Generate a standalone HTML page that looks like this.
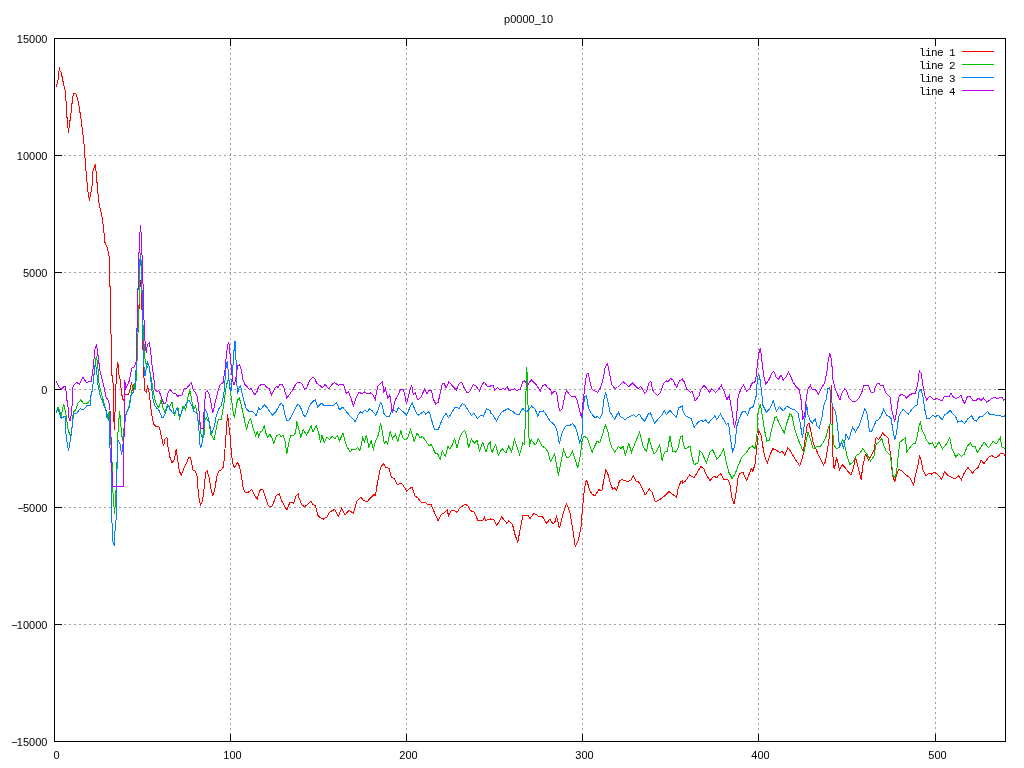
<!DOCTYPE html>
<html><head><meta charset="utf-8"><title>p0000_10</title>
<style>
html,body{margin:0;padding:0;background:#fff;}
body{width:1024px;height:768px;overflow:hidden;font-family:"Liberation Sans",sans-serif;}
svg{display:block}
.t{font-family:"Liberation Sans",sans-serif;font-size:11px;fill:#000}
.k{font-family:"Liberation Mono",monospace;font-size:11px;fill:#000;letter-spacing:-0.6px}
.g{stroke:#a0a0a0;stroke-width:1;stroke-dasharray:2 3;fill:none}
.b{stroke:#000;stroke-width:1;fill:none}
.p{fill:none;stroke-width:1;stroke-linejoin:miter}
</style></head><body>
<svg width="1024" height="768" viewBox="0 0 1024 768">
<rect width="1024" height="768" fill="#fff"/>
<g shape-rendering="crispEdges">
<line class="g" x1="54" y1="155.5" x2="1005" y2="155.5"/>
<line class="g" x1="54" y1="272.5" x2="1005" y2="272.5"/>
<line class="g" x1="54" y1="389.5" x2="1005" y2="389.5"/>
<line class="g" x1="54" y1="507.5" x2="1005" y2="507.5"/>
<line class="g" x1="54" y1="624.5" x2="1005" y2="624.5"/>
<line class="g" x1="230.5" y1="38" x2="230.5" y2="741"/>
<line class="g" x1="406.5" y1="38" x2="406.5" y2="741"/>
<line class="g" x1="582.5" y1="38" x2="582.5" y2="741"/>
<line class="g" x1="758.5" y1="38" x2="758.5" y2="741"/>
<line class="g" x1="935.5" y1="38" x2="935.5" y2="741" stroke-dashoffset="1"/>
<rect x="917" y="46" width="82" height="50" fill="#fff"/>
<rect class="b" x="54.5" y="38.5" width="951" height="703"/>
<line class="b" x1="54" y1="38.5" x2="62" y2="38.5"/>
<line class="b" x1="998" y1="38.5" x2="1006" y2="38.5"/>
<line class="b" x1="54" y1="155.5" x2="62" y2="155.5"/>
<line class="b" x1="998" y1="155.5" x2="1006" y2="155.5"/>
<line class="b" x1="54" y1="272.5" x2="62" y2="272.5"/>
<line class="b" x1="998" y1="272.5" x2="1006" y2="272.5"/>
<line class="b" x1="54" y1="389.5" x2="62" y2="389.5"/>
<line class="b" x1="998" y1="389.5" x2="1006" y2="389.5"/>
<line class="b" x1="54" y1="507.5" x2="62" y2="507.5"/>
<line class="b" x1="998" y1="507.5" x2="1006" y2="507.5"/>
<line class="b" x1="54" y1="624.5" x2="62" y2="624.5"/>
<line class="b" x1="998" y1="624.5" x2="1006" y2="624.5"/>
<line class="b" x1="54" y1="741.5" x2="62" y2="741.5"/>
<line class="b" x1="998" y1="741.5" x2="1006" y2="741.5"/>
<line class="b" x1="54.5" y1="742" x2="54.5" y2="734"/>
<line class="b" x1="54.5" y1="38" x2="54.5" y2="46"/>
<line class="b" x1="230.5" y1="742" x2="230.5" y2="734"/>
<line class="b" x1="230.5" y1="38" x2="230.5" y2="46"/>
<line class="b" x1="406.5" y1="742" x2="406.5" y2="734"/>
<line class="b" x1="406.5" y1="38" x2="406.5" y2="46"/>
<line class="b" x1="582.5" y1="742" x2="582.5" y2="734"/>
<line class="b" x1="582.5" y1="38" x2="582.5" y2="46"/>
<line class="b" x1="758.5" y1="742" x2="758.5" y2="734"/>
<line class="b" x1="758.5" y1="38" x2="758.5" y2="46"/>
<line class="b" x1="935.5" y1="742" x2="935.5" y2="734"/>
<line class="b" x1="935.5" y1="38" x2="935.5" y2="46"/>
</g>
<g style="filter:grayscale(1)">
<text class="t" x="47.4" y="43.0" text-anchor="end">15000</text>
<text class="t" x="47.4" y="160.0" text-anchor="end">10000</text>
<text class="t" x="47.4" y="277.0" text-anchor="end">5000</text>
<text class="t" x="47.4" y="394.0" text-anchor="end">0</text>
<text class="t" x="47.4" y="512.0" text-anchor="end">−<tspan dx="-1">5000</tspan></text>
<text class="t" x="47.4" y="629.0" text-anchor="end">−<tspan dx="-1">10000</tspan></text>
<text class="t" x="47.4" y="746.0" text-anchor="end">−<tspan dx="-1">15000</tspan></text>
<text class="t" x="56.5" y="759" text-anchor="middle">0</text>
<text class="t" x="232.5" y="759" text-anchor="middle">100</text>
<text class="t" x="408.5" y="759" text-anchor="middle">200</text>
<text class="t" x="584.5" y="759" text-anchor="middle">300</text>
<text class="t" x="760.5" y="759" text-anchor="middle">400</text>
<text class="t" x="937.5" y="759" text-anchor="middle">500</text>
<text class="t" x="528.6" y="23" text-anchor="middle">p0000_10</text>
<text class="k" x="918.9" y="56.0">line 1</text>
<text class="k" x="918.9" y="69.0">line 2</text>
<text class="k" x="918.9" y="82.0">line 3</text>
<text class="k" x="918.9" y="95.0">line 4</text>
</g>
<line x1="962" y1="51.5" x2="994" y2="51.5" stroke="#ff0000" stroke-width="1" shape-rendering="crispEdges"/>
<line x1="962" y1="64.5" x2="994" y2="64.5" stroke="#00c000" stroke-width="1" shape-rendering="crispEdges"/>
<line x1="962" y1="77.5" x2="994" y2="77.5" stroke="#0080ff" stroke-width="1" shape-rendering="crispEdges"/>
<line x1="962" y1="90.5" x2="994" y2="90.5" stroke="#c000ff" stroke-width="1" shape-rendering="crispEdges"/>
<g shape-rendering="crispEdges">
<polyline class="p" stroke="#ff0000" points="56.2,86.5 57.8,81.9 59.4,67.1 60.0,71.2 61.2,72.5 63.1,81.9 65.2,90.6 66.0,101.2 66.9,116.2 68.4,132.5 70.6,116.2 71.9,105.0 72.5,97.5 73.8,93.1 75.6,93.1 76.9,96.2 78.8,105.0 80.6,116.2 82.8,132.5 84.8,151.0 84.8,155.5 86.5,177.5 88.1,192.5 89.4,200.6 91.9,187.5 93.1,170.0 95.4,164.4 96.9,181.2 98.8,202.5 102.2,217.5 104.4,236.0 105.0,242.5 107.5,248.1 109.4,258.1 109.8,286.2 110.6,287.5 110.6,321.0 110.6,333.8 111.5,334.4 111.9,375.6 112.9,376.2 113.5,411.0 114.4,430.0 115.0,412.5 116.2,378.8 117.5,362.2 118.5,365.0 119.0,375.0 120.2,380.0 121.2,390.0 122.5,398.8 123.8,400.6 125.0,394.4 128.1,395.0 130.0,390.0 131.5,382.5 133.1,391.2 134.0,384.4 135.6,388.8 136.9,365.0 137.5,345.0 138.8,315.0 139.6,292.0 140.6,280.0 141.6,292.0 142.5,330.0 143.0,350.0 143.5,372.0 144.4,382.5 145.0,391.2 146.2,392.5 147.5,386.2 148.8,390.0 150.0,400.0 150.6,400.0 151.0,408.8 152.5,418.8 153.8,424.4 156.2,426.9 158.8,426.2 160.0,430.0 161.9,438.8 163.5,446.2 165.0,438.8 166.9,437.5 168.1,447.5 170.0,457.5 171.9,462.5 173.8,461.2 174.4,458.8 176.2,449.4 177.5,458.8 179.4,471.2 181.2,475.0 183.8,468.8 186.2,463.8 188.8,457.5 190.6,457.5 193.1,470.0 195.0,470.6 196.9,475.0 198.1,490.0 199.4,501.2 200.6,505.0 202.5,501.2 203.8,491.2 205.6,472.5 207.2,470.6 209.4,478.8 211.2,490.0 212.8,495.6 214.4,491.2 216.9,476.2 218.8,471.2 221.2,470.0 223.5,466.9 225.0,448.8 226.0,435.0 226.9,422.5 227.5,414.4 228.2,420.0 228.8,425.0 230.0,435.0 231.2,450.0 232.5,462.5 234.4,467.5 237.5,462.5 239.4,466.2 241.2,475.0 243.1,487.5 245.0,491.9 246.9,493.1 251.9,489.4 255.0,496.2 257.2,499.4 259.4,491.2 261.2,489.4 263.1,490.0 265.6,497.5 268.1,505.0 270.0,506.9 272.5,505.6 276.2,495.6 279.4,493.8 281.9,501.2 285.0,506.9 286.9,510.0 290.0,501.9 293.8,503.1 296.2,495.6 298.0,494.4 298.0,495.3 299.9,500.0 302.1,505.2 304.6,506.6 307.4,504.7 310.8,501.3 313.0,504.7 315.2,505.2 317.7,515.0 320.5,517.8 323.3,519.1 327.1,516.9 329.5,512.2 331.8,510.9 334.6,509.4 338.3,516.5 341.5,508.4 344.9,515.0 349.0,510.3 353.3,513.1 357.1,500.9 360.8,497.2 363.6,500.4 367.0,502.2 370.2,498.1 373.9,494.4 375.4,495.7 377.7,481.2 380.5,468.1 383.3,463.4 386.1,467.8 388.9,468.1 391.4,477.5 394.6,478.8 397.4,485.0 400.8,483.1 403.0,485.0 406.8,491.2 409.6,488.4 412.0,487.2 415.2,496.2 418.0,498.1 421.4,502.8 424.0,501.9 427.4,504.1 431.1,504.7 433.9,511.2 438.2,521.0 441.4,514.1 444.2,513.1 447.1,509.8 448.6,515.9 450.8,511.2 453.6,510.3 457.0,512.2 460.2,507.5 464.9,504.3 467.7,505.6 470.5,510.9 473.3,511.2 475.2,514.1 478.0,521.0 482.7,520.6 484.6,517.2 485.5,520.6 490.0,519.1 490.0,519.3 493.8,519.7 496.6,525.3 499.4,521.6 501.6,516.5 504.6,520.6 506.9,523.4 508.8,520.6 512.5,524.4 515.3,535.6 517.8,542.2 520.0,530.0 522.8,515.9 525.6,515.6 528.4,515.4 529.8,518.8 533.5,513.7 536.9,514.6 539.1,516.9 542.5,516.5 546.2,523.4 550.0,519.1 552.8,523.8 554.7,522.5 556.6,516.5 559.4,528.1 562.2,516.9 566.5,503.8 569.7,511.2 572.5,528.1 575.3,546.5 578.1,541.2 580.9,528.1 582.2,511.2 583.8,494.4 585.6,482.2 586.9,480.3 589.4,489.7 592.2,494.4 595.0,495.7 598.8,489.7 601.9,491.0 603.4,482.2 605.9,469.6 608.1,474.7 610.9,485.0 612.8,489.1 614.3,487.8 616.6,490.2 619.4,481.2 621.6,479.4 626.9,481.2 630.6,480.9 633.4,475.6 636.2,481.2 639.1,482.2 641.9,487.8 645.2,494.8 649.4,489.1 652.2,492.5 655.4,501.9 659.7,499.6 664.4,496.2 669.1,491.6 672.8,494.4 676.6,497.2 678.4,486.9 681.2,481.2 682.0,480.9 682.0,484.0 685.8,480.6 689.5,475.0 694.2,477.8 697.9,471.2 700.8,466.6 703.6,468.4 706.4,475.0 710.1,480.6 713.9,475.9 716.7,477.8 720.4,473.5 724.2,479.7 727.9,479.7 729.8,483.8 731.7,496.9 734.1,504.4 736.4,491.2 737.9,478.1 739.2,474.1 742.9,472.2 746.7,480.6 751.4,468.4 752.9,471.2 755.1,463.8 757.0,445.0 758.5,430.9 760.8,433.8 762.6,445.0 764.5,456.2 767.3,462.8 770.1,454.4 772.9,448.8 775.8,449.7 779.5,452.5 782.3,451.6 784.8,455.3 787.9,447.8 790.8,451.6 794.5,458.1 799.8,466.0 802.9,456.2 804.8,441.2 807.2,424.4 809.1,423.4 811.0,431.9 813.2,443.1 817.0,451.6 820.8,460.0 823.6,464.7 825.4,461.9 827.3,450.6 829.2,437.5 830.5,415.0 831.4,385.0 832.4,415.0 832.9,456.2 834.2,469.4 836.7,457.2 839.5,470.3 842.3,464.7 845.1,467.5 847.9,471.2 850.8,475.0 853.6,467.5 855.4,457.2 858.2,467.5 861.1,479.7 862.9,465.6 865.4,454.4 868.6,460.0 871.4,455.3 874.0,450.6 876.1,437.5 878.9,439.4 882.6,433.2 885.4,435.6 887.9,437.5 889.2,445.0 891.1,458.1 892.4,475.0 894.8,481.6 896.7,475.0 898.6,469.4 902.3,471.2 906.1,475.0 909.8,477.8 913.6,485.3 915.4,475.0 917.9,465.6 919.6,455.3 921.1,460.0 922.9,469.4 925.8,475.9 928.6,473.5 931.4,474.1 934.8,472.2 937.9,475.0 941.7,479.1 944.5,472.2 947.3,475.0 951.1,476.9 954.8,478.8 958.6,475.9 961.4,479.7 964.2,473.1 967.9,467.5 972.6,473.1 975.4,469.4 978.2,467.5 981.1,460.0 983.9,463.8 986.7,460.0 989.5,456.2 992.3,455.9 995.1,457.8 997.9,456.6 1000.8,453.4 1003.6,453.4 1004.9,455.3"/>
<polyline class="p" stroke="#00c000" points="56.2,413.1 58.1,406.9 61.2,415.6 63.8,403.8 65.6,412.5 68.1,430.0 70.6,436.9 72.5,423.8 73.8,411.9 75.6,410.0 78.1,403.1 80.6,400.0 83.8,403.8 86.9,403.8 90.0,400.0 91.9,392.5 93.8,377.5 95.2,362.5 96.5,356.2 97.8,365.0 98.8,382.5 101.2,392.5 103.8,402.5 105.6,408.8 107.5,418.8 109.4,410.6 110.2,425.0 111.2,450.0 112.5,468.8 112.5,487.5 112.6,492.5 113.5,493.8 113.5,506.2 114.5,507.5 114.5,514.4 115.5,499.4 116.4,482.5 116.9,470.0 117.5,463.8 117.5,437.5 118.8,422.5 119.4,411.2 120.6,418.8 121.2,430.0 122.5,440.6 123.8,430.0 125.0,420.0 126.2,412.5 128.8,407.5 130.0,400.0 130.0,401.2 131.9,390.0 134.4,384.4 135.6,388.8 136.9,365.0 137.5,345.0 138.8,315.0 139.5,280.0 140.5,253.0 141.5,270.0 142.5,315.0 143.8,341.2 145.0,358.8 146.9,367.5 148.8,365.0 150.6,375.0 151.9,382.5 153.1,390.0 155.0,400.0 156.9,405.0 158.8,407.5 161.2,400.0 163.1,408.1 165.0,412.5 167.5,405.0 169.4,406.9 171.9,401.9 174.4,416.2 176.2,408.8 178.0,407.5 179.4,419.4 183.1,406.2 185.6,410.0 188.1,396.2 190.0,390.6 191.9,401.2 193.8,408.8 195.6,406.2 196.9,412.5 198.1,420.6 199.4,420.0 201.0,433.8 202.8,438.8 204.4,433.8 205.0,420.0 206.2,417.5 207.5,420.0 208.8,420.0 210.6,433.8 214.0,440.0 215.6,432.5 217.5,422.5 218.8,419.4 221.2,419.4 223.8,405.0 225.6,390.0 227.5,381.2 228.8,379.4 230.0,388.8 231.2,397.5 233.1,411.2 234.4,417.5 235.6,410.0 237.5,400.0 239.4,398.1 241.2,405.0 243.8,416.2 244.4,420.0 246.5,429.4 248.8,421.2 250.6,418.8 252.5,426.2 255.6,435.6 257.2,431.9 258.8,436.9 260.2,431.9 262.5,430.6 264.4,425.0 265.6,432.5 267.5,436.9 270.0,434.4 271.9,438.1 273.8,443.8 276.2,436.2 279.4,434.4 281.2,436.9 283.1,435.0 285.0,441.2 286.9,453.8 288.8,442.5 290.6,435.6 293.8,435.6 295.6,432.5 296.9,421.2 298.0,425.6 300.8,437.8 303.2,429.4 306.4,435.0 308.3,432.2 311.1,425.6 313.0,432.2 316.2,426.0 318.6,432.2 320.5,442.5 322.0,435.0 324.2,442.5 327.1,436.9 329.5,439.7 332.1,435.9 334.6,438.8 337.4,435.6 339.6,441.0 343.0,432.8 344.9,440.6 347.1,447.2 350.1,451.9 352.4,449.1 355.2,449.6 357.6,447.2 359.9,450.9 362.7,437.8 364.6,441.6 366.4,435.0 368.9,447.2 371.1,440.6 373.4,449.1 375.8,440.6 378.6,434.1 380.5,422.8 382.4,432.2 384.2,443.4 386.1,441.6 387.6,444.4 390.2,431.2 392.7,438.8 395.5,434.1 397.8,441.6 400.8,430.9 403.0,437.8 404.9,439.7 407.7,437.8 410.5,429.8 412.4,435.0 414.2,441.6 417.1,432.8 419.9,437.8 422.7,436.5 425.5,440.6 429.2,445.9 431.5,444.4 434.9,452.8 437.7,453.8 440.1,459.4 442.4,450.9 445.2,456.6 448.0,446.2 449.9,449.1 452.1,445.3 454.6,438.8 457.0,447.8 459.6,437.8 462.1,432.8 464.9,430.3 466.8,436.9 468.6,448.1 471.4,438.8 474.2,443.4 477.1,440.6 479.5,450.9 482.7,442.5 486.1,451.9 488.3,444.4 490.0,442.5 490.0,445.6 492.2,452.2 495.6,444.7 498.4,455.0 502.2,448.4 505.9,453.1 508.8,445.6 511.6,452.2 514.4,439.6 517.2,447.5 519.6,455.0 522.8,442.8 524.3,443.8 525.2,425.0 526.6,367.2 527.5,378.1 528.4,425.0 529.4,446.6 531.2,439.6 534.1,443.8 535.9,444.7 538.4,438.5 541.6,445.6 545.3,448.4 547.8,451.2 550.4,461.6 554.7,454.1 558.4,475.6 560.9,462.5 563.5,449.4 566.9,457.8 569.7,456.9 572.5,451.2 575.3,459.7 577.8,468.1 580.4,455.0 582.2,440.0 584.1,436.2 587.5,438.1 589.4,443.8 592.2,452.2 595.0,445.6 597.2,440.9 599.7,442.8 602.5,434.4 605.3,425.0 607.8,430.6 610.0,441.9 611.9,447.5 614.7,452.2 618.4,446.6 621.2,448.4 623.1,446.0 625.4,455.0 628.8,443.8 631.6,452.2 634.4,444.7 637.2,438.1 639.6,432.5 641.5,440.0 643.4,447.5 646.6,451.2 649.0,438.1 651.6,447.5 654.1,454.1 656.5,451.2 659.7,444.7 662.1,460.6 664.4,452.2 667.2,451.2 670.0,436.2 672.8,451.2 675.6,452.2 678.4,447.5 680.3,437.2 682.0,436.2 682.0,437.5 684.8,448.8 687.6,447.8 689.9,445.9 691.8,456.2 694.2,464.7 697.9,462.8 699.8,450.6 701.7,452.5 706.4,462.8 710.1,451.6 712.9,449.7 716.7,459.1 720.4,455.3 723.6,448.8 726.1,461.9 728.9,472.2 732.2,478.8 735.4,473.1 738.2,465.6 742.0,457.2 745.8,453.4 749.5,447.8 752.3,445.9 755.1,448.8 757.0,433.8 757.9,413.1 760.4,403.8 762.2,415.0 764.5,430.0 766.8,441.2 769.2,440.3 772.0,428.1 774.8,417.8 776.7,416.9 779.1,423.4 784.2,432.8 787.0,422.5 789.8,414.1 791.7,415.0 794.5,428.1 798.2,439.4 802.0,448.8 803.9,452.5 806.1,441.2 808.0,431.9 810.4,439.4 813.2,448.8 816.1,446.9 819.8,446.9 823.6,442.2 826.4,435.6 828.2,428.1 830.1,423.4 832.0,424.4 833.9,445.0 836.7,448.8 839.5,446.9 842.9,439.4 845.1,446.9 847.0,456.2 849.8,464.7 853.0,461.9 856.4,455.3 859.2,454.0 862.9,448.8 866.7,454.0 870.4,460.9 874.0,456.2 876.1,444.1 878.9,442.2 881.7,438.4 883.6,445.0 886.4,451.6 890.1,455.3 891.6,463.8 892.9,475.0 894.8,477.8 896.7,471.2 898.6,452.5 899.9,442.2 902.3,440.3 905.5,437.5 906.6,452.1 909.8,447.8 912.6,444.1 915.4,443.1 917.3,435.6 919.2,425.3 920.5,422.5 922.0,430.0 923.9,433.8 926.7,440.3 929.5,444.1 932.3,443.1 935.1,447.8 938.9,442.2 942.6,448.8 946.4,444.1 949.8,437.5 952.0,448.8 955.8,457.2 958.6,453.4 961.4,456.2 964.2,454.4 967.0,446.9 970.4,442.8 972.6,446.9 975.4,446.9 977.3,452.5 981.1,446.9 984.2,442.2 988.6,447.8 993.2,441.2 996.1,444.1 1000.4,437.5 1001.7,446.9 1004.9,448.4"/>
<polyline class="p" stroke="#0080ff" points="56.2,411.9 58.1,409.4 61.2,418.1 65.0,416.2 66.2,437.5 68.5,451.2 70.6,438.8 72.5,425.0 73.1,413.1 76.9,413.1 80.0,408.8 83.8,409.4 87.5,405.0 90.0,405.0 90.0,400.0 92.5,388.8 94.4,370.0 95.6,363.8 96.9,373.8 98.1,386.2 100.0,395.0 103.8,405.0 106.2,411.0 106.2,417.5 107.5,415.0 109.4,422.5 109.8,447.5 110.6,448.8 111.2,468.8 111.5,487.5 111.5,488.8 111.5,522.5 112.4,523.8 112.6,541.2 114.5,545.6 114.8,531.2 115.8,530.0 116.4,502.5 116.8,470.0 116.9,465.0 118.1,440.0 120.0,443.8 121.5,455.0 122.5,450.0 123.8,436.2 125.0,422.5 126.2,413.8 128.8,408.8 130.6,400.0 130.6,396.2 133.1,392.5 135.0,387.5 136.2,367.5 136.9,337.5 137.5,310.0 138.3,275.0 140.3,256.0 141.5,262.0 142.5,315.0 143.1,343.8 143.8,365.0 145.0,376.2 146.2,368.8 147.8,361.9 149.4,367.5 150.6,377.5 151.9,390.0 153.1,400.0 155.0,406.2 157.5,408.8 158.8,410.0 161.9,417.5 163.8,416.9 166.9,408.8 168.1,405.0 170.0,409.4 173.8,413.8 175.0,411.9 176.9,408.1 180.0,416.2 182.5,410.0 185.0,406.2 188.8,400.0 190.6,402.5 193.8,411.2 196.9,413.1 198.8,426.0 199.4,441.2 200.6,448.1 202.5,441.2 203.8,426.2 205.0,409.4 206.9,412.5 208.8,420.0 210.0,426.0 210.0,427.5 211.9,433.8 213.8,427.5 214.4,426.0 216.2,416.2 218.8,408.8 221.2,405.6 223.8,395.0 225.0,380.0 226.2,366.2 227.2,360.6 228.1,370.0 229.4,383.8 231.0,391.2 232.5,373.8 233.8,352.5 235.0,341.2 235.9,355.0 236.5,377.5 237.5,393.8 238.8,388.1 240.6,385.6 241.9,392.5 243.8,400.0 246.2,408.8 249.4,411.9 252.5,411.2 256.2,415.6 258.8,408.1 260.0,410.0 264.4,405.0 267.5,408.1 270.0,411.9 272.5,415.0 276.2,411.2 279.4,405.0 281.6,403.1 283.1,405.6 285.0,415.0 286.9,420.6 288.1,421.2 290.6,417.5 295.0,408.8 298.0,403.8 300.8,407.8 302.7,413.4 305.1,417.2 307.4,412.5 309.2,405.9 312.1,402.2 315.2,399.8 317.7,406.9 319.6,405.0 322.0,402.8 323.9,405.9 332.7,405.9 336.4,402.8 339.6,409.7 342.6,407.2 344.9,409.7 348.6,414.4 352.4,418.1 355.2,421.9 358.0,415.3 360.8,411.6 362.1,413.4 364.6,410.2 367.4,411.6 369.6,408.8 372.1,410.6 375.8,415.3 378.2,409.7 380.5,402.8 382.4,405.9 384.2,414.4 386.1,416.2 389.5,416.2 391.8,409.7 394.6,410.2 396.4,412.5 398.3,407.8 400.8,409.7 403.9,412.5 406.4,414.9 408.6,410.6 410.5,405.9 412.4,403.1 415.2,410.6 418.0,415.3 420.8,413.4 423.6,411.6 425.9,414.4 428.3,411.6 430.2,414.4 432.1,421.9 434.5,429.8 438.2,429.4 440.5,423.8 443.3,417.2 446.1,413.4 448.4,417.8 450.8,414.4 454.6,407.8 457.0,406.9 459.2,408.8 462.1,403.7 464.9,405.0 467.7,409.7 471.4,415.3 473.9,413.4 477.6,418.5 480.8,415.3 483.6,416.2 486.4,408.8 490.0,410.6 490.0,412.8 492.8,414.7 496.6,421.2 499.4,415.6 502.2,411.5 505.0,410.4 507.8,408.5 510.6,410.4 513.4,411.9 516.2,414.3 519.1,414.3 522.8,408.1 524.7,410.9 526.6,411.9 529.4,409.1 531.6,406.2 535.0,409.1 537.8,416.0 539.7,411.9 543.4,410.9 546.2,414.7 550.0,421.2 553.8,424.1 556.6,428.8 559.4,443.8 562.2,432.5 565.0,426.9 567.8,425.0 569.7,425.6 572.5,423.5 575.3,426.9 577.2,432.5 579.6,442.8 581.9,437.2 582.8,411.9 584.7,396.9 586.6,395.9 588.4,408.1 590.3,411.9 593.1,415.6 595.0,417.5 597.8,416.6 599.7,418.4 602.1,413.8 604.0,398.8 605.7,393.1 608.1,402.5 610.0,411.9 612.8,416.6 614.7,419.0 618.4,411.9 620.3,416.6 625.0,419.4 629.7,416.6 633.4,414.7 636.2,416.6 639.1,413.8 641.9,418.4 644.7,421.2 648.4,413.8 650.3,412.8 652.2,417.5 654.6,423.1 658.8,418.4 661.6,415.6 664.4,410.9 666.2,414.7 670.0,410.4 672.8,413.8 676.6,417.5 678.4,408.1 682.0,406.2 682.0,408.4 684.8,415.0 687.6,416.9 691.4,418.8 694.2,427.2 697.9,422.5 700.8,420.2 703.6,421.6 705.4,419.7 708.2,423.4 712.0,418.8 714.8,415.9 716.7,419.7 720.4,414.1 723.2,418.8 726.1,424.4 728.5,423.4 730.4,437.5 732.6,452.5 734.9,445.0 736.8,426.2 739.2,418.8 742.0,412.2 744.8,411.2 747.6,415.0 749.9,408.4 753.2,406.6 756.1,396.2 757.4,379.4 758.5,372.8 760.4,381.2 761.7,393.4 763.0,405.6 766.4,412.2 769.2,409.4 771.1,405.6 773.3,400.9 776.3,411.2 779.5,406.6 783.2,410.9 787.0,406.0 790.8,408.4 794.5,409.8 797.9,412.8 800.1,422.5 802.4,437.5 803.9,428.1 805.4,415.0 806.7,403.8 808.0,415.0 810.4,420.6 812.3,423.4 815.1,418.8 817.0,426.2 819.2,428.1 821.7,418.8 823.6,405.6 826.0,400.0 827.9,388.4 829.8,387.8 831.1,400.0 832.9,406.6 835.8,413.1 837.6,426.2 839.5,446.9 841.8,442.2 843.6,448.8 846.1,433.8 848.9,439.4 852.6,427.2 855.4,431.9 859.2,425.3 862.0,416.9 864.8,408.4 867.2,414.1 869.5,431.9 871.4,431.9 874.0,426.2 876.1,420.6 878.5,419.7 881.1,415.9 883.6,409.4 886.4,415.0 889.2,416.9 891.1,418.8 892.9,430.0 894.8,440.3 896.7,431.9 898.6,416.9 901.0,412.2 903.2,409.4 906.1,412.2 908.5,414.1 911.7,409.4 914.5,406.6 917.3,404.7 919.2,390.6 921.1,389.7 922.9,396.2 924.8,409.4 926.7,418.8 929.5,418.8 933.2,415.0 935.1,416.9 937.9,415.0 942.2,419.7 944.5,415.0 947.3,413.1 950.1,410.3 952.9,414.1 955.8,416.9 957.6,422.1 961.4,421.0 964.8,423.4 967.9,418.8 971.7,415.9 973.6,419.7 976.4,421.0 980.1,415.9 982.4,416.9 984.8,414.1 987.6,411.2 989.5,414.1 993.2,414.1 996.1,415.9 999.8,415.0 1001.7,416.9 1004.9,415.9"/>
<polyline class="p" stroke="#c000ff" points="56.2,381.0 59.4,387.5 61.2,389.4 63.8,386.5 65.6,386.5 66.9,400.0 67.8,403.8 68.8,417.5 70.0,420.6 71.2,415.0 72.2,403.8 73.1,385.6 76.9,382.5 79.4,384.4 82.8,377.1 86.2,382.5 91.2,381.2 93.1,368.8 95.0,348.8 96.5,344.4 98.1,356.2 100.0,371.2 103.8,386.2 106.2,397.5 108.8,401.2 110.0,410.0 110.6,436.2 111.5,437.5 111.9,468.8 112.5,486.2 123.5,486.2 123.8,437.5 124.8,435.0 124.8,400.0 124.8,380.0 125.6,388.8 128.8,382.5 131.9,368.1 134.4,366.9 136.0,362.5 136.3,348.0 137.3,320.0 137.7,303.0 138.5,270.0 139.3,243.0 140.5,225.0 141.3,236.7 142.2,260.0 143.2,290.0 144.0,320.0 144.6,335.0 145.0,341.2 146.2,352.5 147.5,344.4 149.4,343.1 150.6,351.2 151.9,363.8 153.8,377.5 155.0,388.8 156.9,391.9 158.8,390.6 161.2,396.2 163.8,403.8 165.6,403.8 168.1,392.5 170.2,389.4 173.1,393.1 175.6,393.1 177.8,396.9 179.4,395.0 181.9,395.0 184.4,388.1 186.2,388.8 191.5,382.5 193.1,389.4 196.9,395.0 198.1,402.5 199.4,415.0 200.6,428.1 203.1,428.1 204.4,405.0 205.6,392.5 207.5,390.6 209.4,395.0 211.2,403.8 212.8,413.1 214.4,406.2 216.9,395.0 220.0,385.0 223.1,382.5 225.0,370.0 226.2,357.5 227.5,345.0 228.8,341.9 230.0,353.8 231.2,366.2 232.5,380.0 234.0,385.0 235.6,380.0 237.5,366.2 239.4,364.4 241.2,370.0 243.1,380.0 245.0,384.4 249.4,389.4 251.2,388.1 253.1,392.5 255.0,394.4 256.9,391.9 258.8,386.2 261.2,384.4 264.4,384.4 266.9,387.5 269.4,388.8 271.5,395.0 274.4,388.8 276.9,386.2 278.1,388.1 280.0,384.4 281.9,384.4 283.8,387.5 286.9,398.1 290.0,393.8 293.1,389.4 295.6,384.4 298.0,381.9 301.8,383.4 304.6,389.1 306.4,388.1 310.2,379.7 313.0,377.2 314.9,378.8 316.8,383.4 319.6,385.3 322.4,387.8 325.2,384.4 328.9,389.1 331.8,384.4 334.6,382.5 338.3,385.3 342.1,384.0 343.9,385.3 346.4,393.8 348.6,391.9 351.4,399.4 353.3,405.9 356.1,397.5 358.9,391.9 361.8,393.8 364.6,391.9 367.4,393.8 370.2,392.8 373.0,394.7 375.2,399.8 377.7,386.2 380.5,383.4 382.4,381.6 383.9,392.8 385.2,388.1 388.0,398.4 389.9,394.7 392.3,413.4 393.6,406.9 395.5,399.4 397.4,396.6 400.2,390.0 403.0,389.1 404.5,392.8 406.4,404.1 408.6,395.6 410.5,388.1 411.8,385.3 413.3,394.7 415.2,392.8 418.0,400.3 420.8,397.5 424.6,389.1 427.0,393.8 429.2,390.0 431.5,390.9 433.4,399.4 435.8,404.1 438.2,402.2 440.5,391.9 442.4,383.4 444.2,383.4 446.1,388.1 448.9,381.6 451.8,385.3 456.4,390.0 459.2,383.4 461.7,382.5 463.9,387.2 466.8,392.8 469.6,391.9 473.3,384.4 476.1,386.2 479.5,390.9 482.7,383.4 484.6,382.5 487.4,386.2 490.0,386.2 490.0,385.6 493.4,385.6 494.7,390.3 497.5,387.5 500.3,389.8 503.1,388.4 505.0,389.8 507.2,386.6 508.8,390.3 512.5,389.8 514.8,388.4 516.2,390.3 520.0,389.8 522.8,381.9 524.7,380.9 527.5,385.6 531.2,379.4 534.1,382.8 536.9,385.6 540.2,391.2 542.5,385.6 545.3,384.7 548.1,388.4 550.4,389.4 551.9,394.1 553.8,391.2 556.6,392.2 559.4,410.9 562.2,409.1 565.0,395.0 566.5,390.3 569.7,395.0 571.6,396.9 575.3,396.9 577.2,400.6 580.0,411.9 581.5,418.4 582.8,404.4 584.7,387.5 586.6,374.4 588.4,373.4 590.3,383.8 592.2,389.4 595.0,391.2 597.8,392.2 600.6,387.5 602.5,381.9 605.3,366.9 607.6,363.5 609.6,374.4 611.9,384.7 614.7,388.4 617.5,387.5 621.2,383.8 623.5,381.9 626.5,384.7 628.8,386.6 632.5,382.8 635.3,385.6 638.1,388.4 640.9,386.6 644.7,393.1 646.6,391.2 649.0,382.8 650.9,381.5 652.8,390.3 655.9,394.1 657.8,395.6 660.6,392.2 663.4,383.8 666.2,380.9 668.1,381.9 670.4,378.5 672.8,379.6 674.7,383.8 676.6,387.5 679.4,380.9 682.0,379.1 682.0,379.8 684.2,381.6 686.7,389.1 690.4,392.1 692.3,391.6 695.1,400.9 698.9,396.2 700.8,389.1 704.1,385.4 707.3,389.1 709.8,392.5 711.6,389.1 715.8,392.5 718.6,389.1 721.4,385.4 724.2,391.6 727.0,399.6 729.2,395.3 731.7,409.4 734.5,427.8 736.4,418.8 738.2,396.2 741.1,388.8 743.5,385.0 746.7,391.0 749.5,388.8 752.3,382.8 755.5,381.6 757.0,368.1 758.5,354.1 760.4,348.4 761.7,358.8 763.6,375.6 765.8,384.1 769.2,379.4 772.0,372.8 773.9,371.5 776.3,377.5 778.6,379.4 781.0,374.7 783.2,380.3 786.1,376.6 788.5,372.2 790.8,376.6 793.6,383.1 796.4,386.9 799.2,389.7 801.1,400.0 802.9,418.8 804.8,415.0 806.1,400.0 807.6,389.7 810.4,385.4 812.3,389.7 815.1,389.1 818.5,394.4 821.7,387.8 824.5,383.1 826.8,372.8 828.2,360.6 829.8,353.5 831.6,360.6 832.9,379.4 834.8,387.8 837.6,394.4 839.9,400.0 842.3,392.1 844.8,388.8 846.6,390.6 848.9,398.1 851.7,400.9 855.4,401.9 859.2,398.1 862.0,391.6 863.9,385.0 866.7,385.0 868.6,385.9 870.4,391.6 872.3,392.9 874.0,392.5 874.2,389.7 877.0,384.1 878.9,383.5 881.1,385.9 883.0,385.4 885.4,392.5 888.2,395.3 890.1,397.2 892.0,411.2 894.8,421.6 896.7,411.2 898.6,397.2 901.0,394.4 904.2,395.3 906.6,398.1 908.9,395.3 912.6,393.4 915.4,393.4 917.9,383.1 919.2,370.9 921.1,372.8 922.9,385.0 924.8,395.3 926.7,400.0 929.5,396.2 932.3,398.1 934.2,400.0 937.0,398.1 939.8,400.0 942.2,400.9 944.5,396.2 949.2,396.2 951.1,393.4 953.5,397.2 955.8,398.5 958.6,397.2 961.0,395.3 963.2,400.9 964.8,403.8 967.0,397.2 969.8,396.2 972.6,400.0 976.4,400.0 978.6,398.1 981.1,400.4 983.5,398.1 986.7,402.2 990.4,399.6 994.2,397.2 997.0,398.5 1001.7,397.2 1003.6,400.0 1004.9,399.1"/>
</g>
</svg>
</body></html>
